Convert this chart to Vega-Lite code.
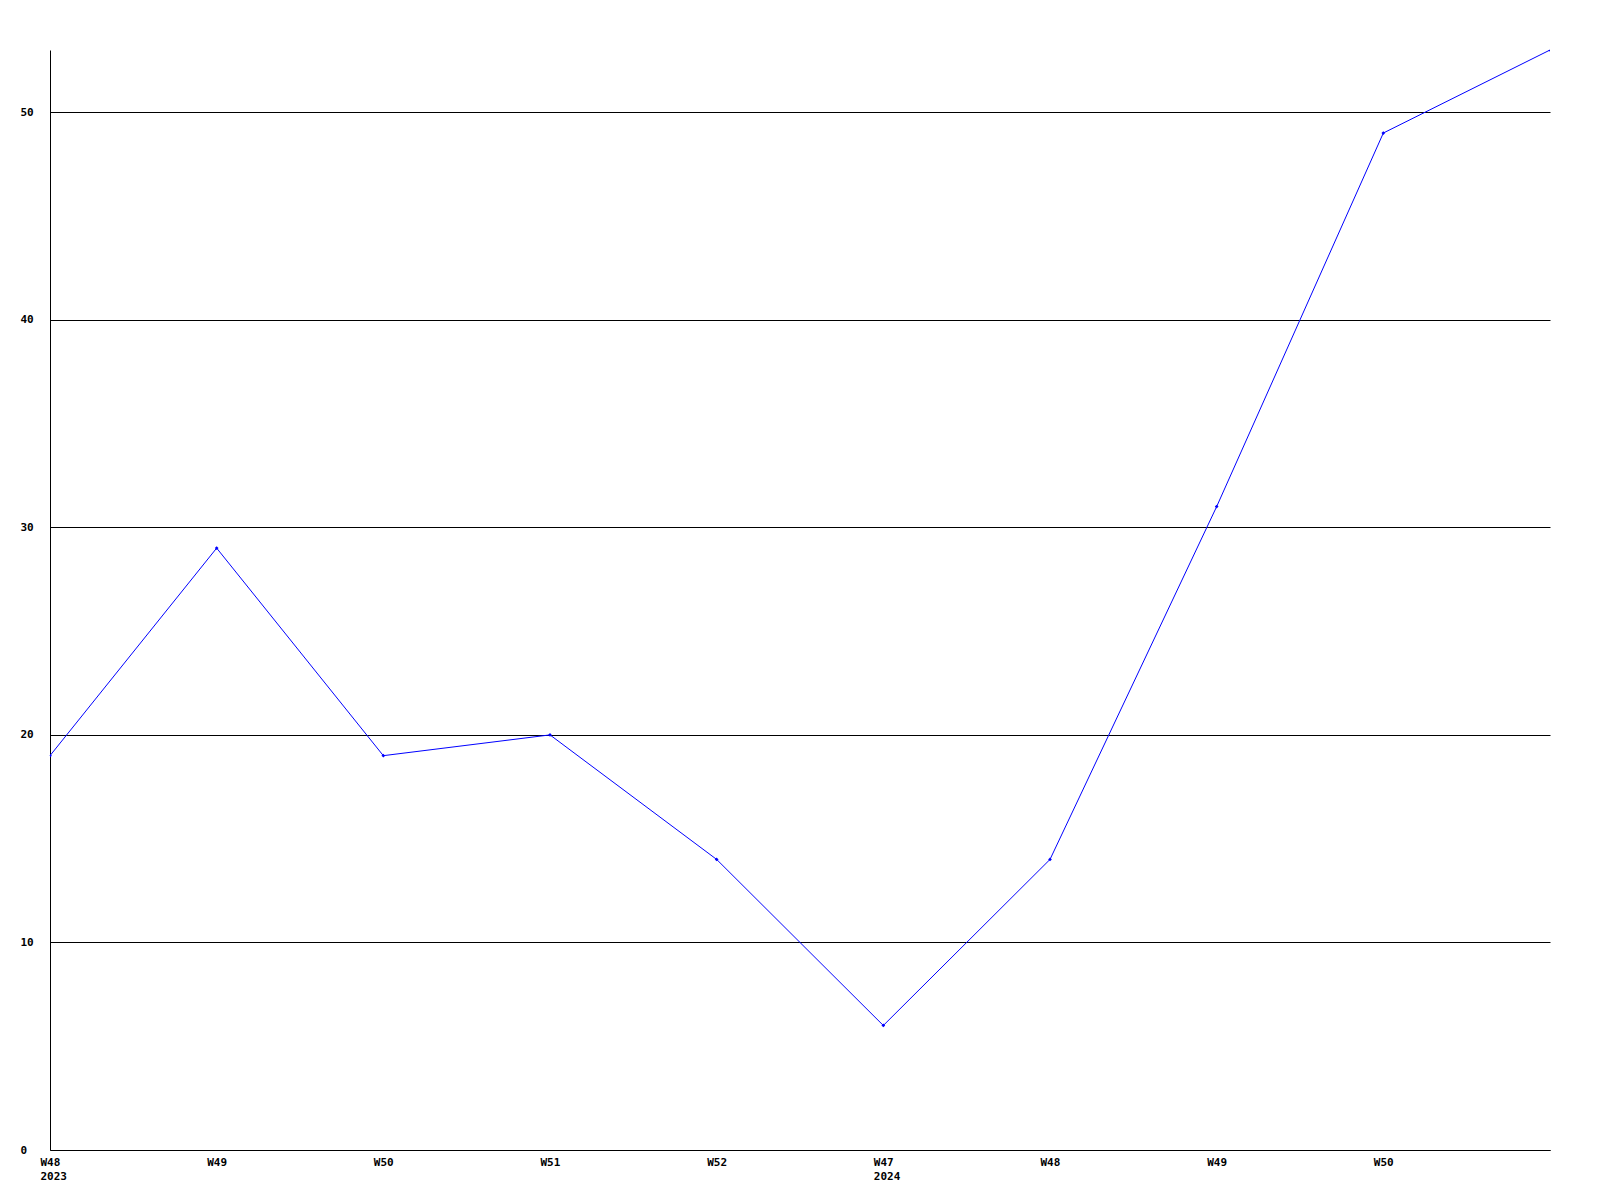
{
  "$schema": "https://vega.github.io/schema/vega-lite/v6.json",
  "width": 1500,
  "height": 1100,
  "autosize": {"type": "none"},
  "padding": {"left": 50, "top": 50, "right": 50, "bottom": 50},
  "background": "white",
  "config": {
    "view": {"stroke": null},
    "axis": {"labelFont": "DejaVu Sans Mono", "labelFontWeight": "bold", "labelFontSize": 11, "labelColor": "black"}
  },
  "data": {
    "values": [
      {"week": "2023-W48", "value": 19},
      {"week": "2023-W49", "value": 29},
      {"week": "2023-W50", "value": 19},
      {"week": "2023-W51", "value": 20},
      {"week": "2023-W52", "value": 14},
      {"week": "2024-W47", "value": 6},
      {"week": "2024-W48", "value": 14},
      {"week": "2024-W49", "value": 31},
      {"week": "2024-W50", "value": 49},
      {"week": "2024-W51", "value": 53}
    ]
  },
  "encoding": {
    "x": {
      "field": "week", "type": "ordinal", "sort": null,
      "scale": {"type": "point", "padding": 0},
      "axis": {
        "title": null, "ticks": false, "tickSize": 0, "domainColor": "black", "domainWidth": 1,
        "labelAngle": 0, "labelAlign": "left", "labelOffset": -10, "labelBaseline": "top", "labelPadding": 6,
        "labelLineHeight": 14, "labelOverlap": false, "labelBound": false, "labelFlush": false,
        "labelExpr": "datum.value == '2023-W48' ? ['W48','2023'] : datum.value == '2024-W47' ? ['W47','2024'] : datum.value == '2024-W51' ? '' : split(datum.value, '-')[1]"
      }
    },
    "y": {
      "field": "value", "type": "quantitative",
      "scale": {"domain": [0, 53], "nice": false, "zero": true},
      "axis": {
        "title": null, "ticks": false, "tickSize": 0, "values": [0, 10, 20, 30, 40, 50],
        "grid": true, "gridColor": "black", "gridWidth": 1, "gridOpacity": 1,
        "domainColor": "black", "domainWidth": 1,
        "labelAlign": "left", "labelPadding": 30, "labelBaseline": "middle"
      }
    }
  },
  "layer": [
    {"mark": {"type": "line", "color": "#0000ff", "strokeWidth": 1}},
    {"mark": {"type": "point", "shape": "diamond", "filled": true, "color": "#0000ff", "size": 14, "opacity": 1, "clip": true}}
  ]
}
